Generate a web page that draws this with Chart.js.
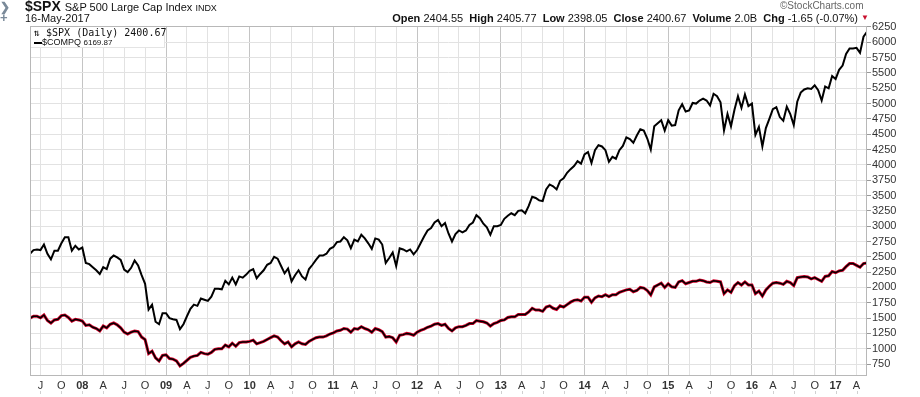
<!DOCTYPE html>
<html>
<head>
<meta charset="utf-8">
<script src="https://cdn.jsdelivr.net/npm/chart.js@4"></script>
<style>
  body { margin: 0; background: #fff; font-family: "Liberation Sans", Arial, sans-serif; }
  #wrap { position: relative; width: 920px; height: 397px; }
  .hd { position: absolute; white-space: nowrap; color: #111; }
  .legend { position: absolute; left: 31px; top: 27px; width: 133px; height: 20px; background: #fff; border-right: 1px solid #e4e4e4; border-bottom: 1px solid #e4e4e4; }
</style>
</head>
<body>
<div id="wrap">
  <canvas id="spxChart" width="920" height="397"></canvas>
  <div class="hd" style="left:0;top:0;font-size:12px;color:#7a8a99;font-weight:bold">&#x276F;</div>
  <div class="hd" style="left:0;top:10px;font-size:13px;color:#7a8a99;font-weight:bold">+</div>
  <div class="hd" style="left:25px;top:-2px;font-size:14px;font-weight:bold">$SPX <span style="font-size:11px;font-weight:normal">S&amp;P 500 Large Cap Index <span style="font-size:9px">INDX</span></span></div>
  <div class="hd" style="left:25px;top:12px;font-size:11px">16-May-2017</div>
  <div class="hd" style="left:780px;top:0px;font-size:10px;color:#666">&copy;StockCharts.com</div>
  <div class="hd" style="right:62px;top:12px;font-size:11px"><b>Open</b> 2404.55 &nbsp;<b>High</b> 2405.77 &nbsp;<b>Low</b> 2398.05 &nbsp;<b>Close</b> 2400.67 &nbsp;<b>Volume</b> 2.0B &nbsp;<b>Chg</b> -1.65 (-0.07%)</div>
  <div class="hd" style="left:861px;top:13px;font-size:8px;color:#c8102e">&#x25BC;</div>
  <div class="legend">
    <div class="hd" style="left:3px;top:0px;font-size:10px;font-family:'DejaVu Sans Mono',monospace">&#x21C5; $SPX (Daily) 2400.67</div>
    <div class="hd" style="left:3px;top:10px;font-size:9px"><span style="display:inline-block;width:8px;height:2px;background:#000;vertical-align:middle"></span>$COMPQ <span style="font-size:8px">6169.87</span></div>
  </div>
</div>
<script>
// half-month samples, mid-May 2007 .. mid-May 2017 (x in months from Jan 2007)
const startMonth = 4.5;
const stepMonth = 0.5;

const spx = [
  1500, 1530, 1530, 1505, 1550, 1460, 1420, 1470, 1480, 1540, 1550, 1510, 1450, 1480, 1470,
  1450, 1380, 1390, 1350, 1330, 1290, 1370, 1340, 1400, 1420, 1390, 1340, 1270, 1240, 1270, 1290, 1280, 1190, 1150, 920, 960, 850, 800, 890,
  900, 840, 830, 800, 720, 760, 810, 860, 880, 890, 940, 920, 910, 940, 990, 1000, 1000, 1060, 1030, 1090, 1040, 1100, 1110, 1110,
  1120, 1140, 1080, 1100, 1120, 1150, 1180, 1210, 1190, 1130, 1080, 1110, 1030, 1080, 1110, 1080, 1070, 1120, 1150, 1180, 1190, 1190, 1210, 1240,
  1260, 1290, 1300, 1330, 1320, 1270, 1330, 1320, 1360, 1330, 1310, 1270, 1330, 1310, 1280, 1190, 1200, 1180, 1110, 1220, 1230, 1250, 1240, 1220,
  1270, 1300, 1320, 1350, 1370, 1400, 1410, 1380, 1400, 1330, 1290, 1340, 1360, 1360, 1380, 1410, 1410, 1460, 1450, 1440, 1420, 1370, 1410, 1430,
  1460, 1470, 1510, 1520, 1520, 1560, 1560, 1560, 1600, 1660, 1630, 1630, 1610, 1680, 1700, 1660, 1640, 1700, 1680, 1720, 1760, 1790, 1800, 1780,
  1840, 1840, 1760, 1830, 1860, 1850, 1880, 1850, 1880, 1880, 1920, 1940, 1960, 1970, 1930, 1950, 2000, 1990, 1950, 1880, 2010, 2040, 2070, 2000,
  2060, 2010, 2000, 2090, 2110, 2060, 2080, 2100, 2100, 2120, 2110, 2090, 2080, 2110, 2100, 2090, 1900, 1960, 1920, 2030, 2080, 2040, 2090, 2040,
  2040, 1900, 1940, 1860, 1960, 2020, 2070, 2080, 2070, 2050, 2100, 2080, 2030, 2160, 2170, 2180, 2170, 2140, 2160, 2130, 2100, 2180, 2190, 2260,
  2240, 2270, 2280, 2340, 2390, 2390, 2360, 2330, 2390, 2400
];

const compq = [
  2550, 2610, 2620, 2610, 2700, 2550, 2460, 2600, 2600, 2720, 2820, 2820, 2600, 2680, 2620,
  2650, 2400, 2380, 2330, 2280, 2220, 2330, 2300, 2470, 2520, 2490, 2450, 2290, 2250, 2320, 2440, 2360, 2200, 2060, 1640, 1720, 1440, 1400, 1580,
  1580, 1500, 1480, 1470, 1320, 1400, 1530, 1650, 1720, 1700, 1820, 1800, 1780, 1850, 1980, 1980, 1970, 2110, 2050, 2160, 2050, 2180, 2160, 2210,
  2270, 2300, 2150, 2220, 2280, 2370, 2400, 2500, 2470, 2350, 2230, 2310, 2100, 2200, 2280, 2180, 2130, 2300, 2370, 2450, 2520, 2520, 2550, 2630,
  2660, 2740, 2750, 2820, 2770, 2640, 2780, 2750, 2860, 2800, 2720, 2630, 2800, 2780, 2700, 2400, 2480, 2570, 2350, 2640, 2620, 2590, 2620, 2540,
  2610, 2720, 2830, 2930, 2970, 3060, 3100, 3000, 3050, 2880, 2750, 2870, 2930, 2900, 2930, 3020, 3060, 3180, 3130, 3040, 2980, 2860, 3000, 3000,
  3020, 3120, 3170, 3210, 3180, 3250, 3260, 3210, 3330, 3480, 3460, 3420, 3410, 3600, 3680, 3650, 3600, 3740, 3780, 3870, 3930, 3980, 4060, 4020,
  4170, 4210, 4030, 4240, 4320, 4300, 4240, 4050, 4130, 4100, 4240, 4310, 4450, 4420, 4360, 4480, 4580, 4560, 4430, 4250, 4630, 4680, 4730, 4560,
  4730, 4640, 4650, 4890, 4990, 4870, 4890, 5010, 5000, 5050, 5080, 5050, 4970, 5160, 5120, 5020, 4560, 4830, 4630, 4900, 5120, 4930, 5150, 4960,
  5000, 4490, 4620, 4300, 4600, 4750, 4910, 4940, 4780, 4720, 4950, 4830, 4650, 5030, 5180, 5230, 5250, 5240, 5300, 5220, 5050, 5280, 5250, 5450,
  5400, 5550, 5620, 5810, 5900, 5900, 5910, 5830, 6090, 6170
];

const yTicks = [750, 1000, 1250, 1500, 1750, 2000, 2250, 2500, 2750, 3000, 3250, 3500, 3750, 4000, 4250, 4500, 4750, 5000, 5250, 5500, 5750, 6000, 6250];
const quarterLetters = { 3: 'A', 6: 'J', 9: 'O' };

function toPoints(values) {
  return values.map((v, i) => ({ x: startMonth + i * stepMonth, y: v }));
}

const xTicks = [];
for (let m = 6; m <= 123; m += 3) xTicks.push(m);

// plot frame + small ticks under the month labels
const framePlugin = {
  id: 'frame',
  afterDraw(chart) {
    const a = chart.chartArea, c = chart.ctx, xs = chart.scales.x;
    c.save();
    c.strokeStyle = '#b8b8b8';
    c.lineWidth = 1;
    c.strokeRect(a.left + 0.5, a.top + 0.5, a.right - a.left - 1, a.bottom - a.top - 1);
    c.strokeStyle = '#d0d0d0';
    c.beginPath();
    xTicks.forEach(m => {
      const px = Math.round(xs.getPixelForValue(m)) + 0.5;
      c.moveTo(px, 391);
      c.lineTo(px, 394);
    });
    c.stroke();
    c.restore();
  }
};

var ctx = document.getElementById('spxChart').getContext('2d');

var myChart = new Chart(ctx, {
  type: 'line',
  data: {
    datasets: [
      { label: '$SPX', data: toPoints(spx), borderColor: '#000', borderWidth: 1.5, pointRadius: 0, order: 0 },
      { label: '$SPX down', data: toPoints(spx), borderColor: '#d4002a', borderWidth: 3, pointRadius: 0, order: 1 },
      { label: '$COMPQ', data: toPoints(compq), borderColor: '#000', borderWidth: 2, pointRadius: 0, order: 2 }
    ]
  },
  options: {
    responsive: false,
    animation: false,
    layout: { padding: { left: 30, top: 26, right: 0, bottom: 0 } },
    plugins: { legend: { display: false }, tooltip: { enabled: false } },
    elements: { line: { tension: 0, borderJoinStyle: 'miter' } },
    scales: {
      x: {
        type: 'linear',
        min: 4.5,
        max: 124.5,
        afterBuildTicks: s => { s.ticks = xTicks.map(v => ({ value: v })); },
        afterFit: s => { s.height = 21; },
        border: { display: false },
        grid: {
          drawTicks: false,
          color: c => (c.tick && c.tick.value % 12 === 0) ? '#c4c4c4' : '#e2e2e2'
        },
        ticks: {
          autoSkip: false,
          maxRotation: 0,
          padding: 3,
          color: '#333',
          font: c => ({ family: 'Liberation Sans', size: 11, weight: (c.tick && c.tick.value % 12 === 0) ? 'bold' : 'normal' }),
          callback: v => v % 12 === 0 ? String(2007 + v / 12).slice(2) : quarterLetters[v % 12]
        }
      },
      y: {
        position: 'right',
        min: 555,
        max: 6266,
        afterBuildTicks: s => { s.ticks = yTicks.map(v => ({ value: v })); },
        afterFit: s => { s.width = 53; },
        border: { display: false },
        grid: { color: '#e2e2e2', tickLength: 4, tickColor: '#999' },
        ticks: { autoSkip: false, color: '#333', padding: 1, font: { family: 'Liberation Sans', size: 11 }, callback: v => String(v) }
      }
    }
  },
  plugins: [framePlugin]
});
</script>
</body>
</html>
